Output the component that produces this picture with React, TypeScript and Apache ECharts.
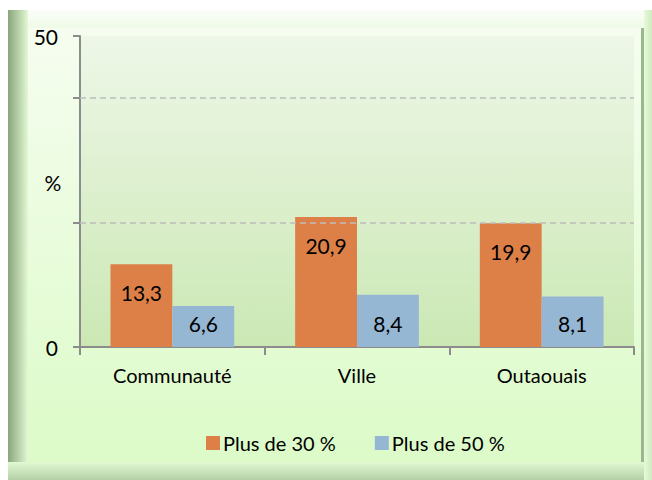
import React, { useEffect, useRef } from "react";
import * as echarts from "echarts";

const categories = ["Communauté", "Ville", "Outaouais"];
const seriesNames = ["Plus de 30 %", "Plus de 50 %"];
const plus30 = [13.3, 20.9, 19.9];
const plus50 = [6.6, 8.4, 8.1];
const gridValues = [20, 40];
const shownYLabels = [0, 50];

const FONT = "Lato, 'Open Sans', sans-serif";
const fmt = (v: number) => v.toFixed(1).replace(".", ",");

export default function App() {
  const ref = useRef<HTMLDivElement>(null);
  useEffect(() => {
    if (!ref.current) return;
    const chart = echarts.init(ref.current, undefined, { renderer: "svg" });
    const lin = (x: number, y: number, x2: number, y2: number, c0: string, c1: string) =>
      new echarts.graphic.LinearGradient(x, y, x2, y2, [
        { offset: 0, color: c0 },
        { offset: 1, color: c1 },
      ]);
    chart.setOption({
      animation: false,
      backgroundColor: "#ffffff",
      textStyle: { fontFamily: FONT },
      graphic: [
        { type: "rect", z: -10, shape: { x: 8, y: 10, width: 644, height: 470 }, style: { fill: "#d9f8c5" } },
        { type: "rect", z: -9, shape: { x: 8, y: 10, width: 644, height: 18 }, style: { fill: lin(0, 0, 0, 1, "#fbfdf9", "#eefbe6") } },
        { type: "rect", z: -9, shape: { x: 8, y: 10, width: 20, height: 470 }, style: { fill: lin(0, 0, 1, 0, "#8aa47c", "#e2f9d4") } },
        { type: "rect", z: -9, shape: { x: 8, y: 462, width: 644, height: 18 }, style: { fill: lin(0, 0, 0, 1, "#e2f9d4", "#b4cfa5") } },
        { type: "rect", z: -9, shape: { x: 641, y: 28, width: 3, height: 434 }, style: { fill: "#9cb68f" } },
        { type: "rect", z: -9, shape: { x: 644, y: 10, width: 8, height: 470 }, style: { fill: lin(0, 0, 1, 0, "#e6fbd9", "#cfe9c0") } },
        { type: "rect", z: -9, shape: { x: 28, y: 28, width: 613, height: 434 }, style: { fill: lin(0, 0, 0, 1, "#f6fdf0", "#dcfbc8") } },
        {
          type: "text",
          z: 10,
          style: { x: 53, y: 182, text: "%", fontSize: 21, fontFamily: FONT, fill: "#000", align: "center", verticalAlign: "middle" },
        },
      ],
      grid: {
        left: 80,
        right: 18,
        top: 36,
        bottom: 133,
        show: true,
        borderWidth: 0,
        backgroundColor: lin(0, 0, 0, 1, "#eef7e8", "#cbe8b4"),
      },
      legend: {
        left: 201,
        top: 428,
        itemWidth: 14,
        itemHeight: 14,
        itemGap: 39,
        icon: "rect",
        textStyle: { fontSize: 20, color: "#000", fontFamily: FONT, padding: [0, 0, 0, -2] },
        data: seriesNames,
      },
      xAxis: {
        type: "category",
        data: categories,
        axisLine: { lineStyle: { color: "#8c8c8c", width: 2 } },
        axisTick: { show: true, length: 8, alignWithLabel: false, lineStyle: { color: "#8c8c8c", width: 2 } },
        axisLabel: { fontSize: 20, color: "#000", margin: 18, fontFamily: FONT },
      },
      yAxis: {
        type: "value",
        min: 0,
        max: 50,
        interval: 20,
        axisLine: { show: true, lineStyle: { color: "#8c8c8c", width: 2 } },
        axisTick: {
          show: true,
          length: 7,
          lineStyle: { color: "#8c8c8c", width: 2 },
        },
        splitLine: { show: false },
        axisLabel: {
          fontSize: 21,
          color: "#000",
          margin: 22,
          fontFamily: FONT,
          showMaxLabel: true,
          formatter: (v: number) => (shownYLabels.includes(v) ? String(v) : ""),
        },
      },
      series: [
        {
          name: seriesNames[0],
          type: "bar",
          data: plus30,
          barGap: "0%",
          barCategoryGap: "33%",
          itemStyle: { color: "#dd8047" },
          label: {
            show: true,
            position: "insideTop",
            distance: 18,
            fontSize: 21,
            color: "#000",
            fontFamily: FONT,
            formatter: (p: any) => fmt(p.value),
          },
          markLine: {
            silent: true,
            symbol: "none",
            label: { show: false },
            lineStyle: { color: "#bdbdbd", type: [6, 4], width: 1.5 },
            data: gridValues.map((v) => ({ yAxis: v })),
          },
        },
        {
          name: seriesNames[1],
          type: "bar",
          data: plus50,
          itemStyle: { color: "#95b7d3" },
          label: {
            show: true,
            position: "insideBottom",
            distance: 13,
            fontSize: 21,
            color: "#000",
            fontFamily: FONT,
            formatter: (p: any) => fmt(p.value),
          },
        },
      ],
    });
    return () => chart.dispose();
  }, []);
  return (
    <div
      ref={ref}
      style={{ position: "fixed", left: 0, top: 0, width: 652, height: 480 }}
    />
  );
}
